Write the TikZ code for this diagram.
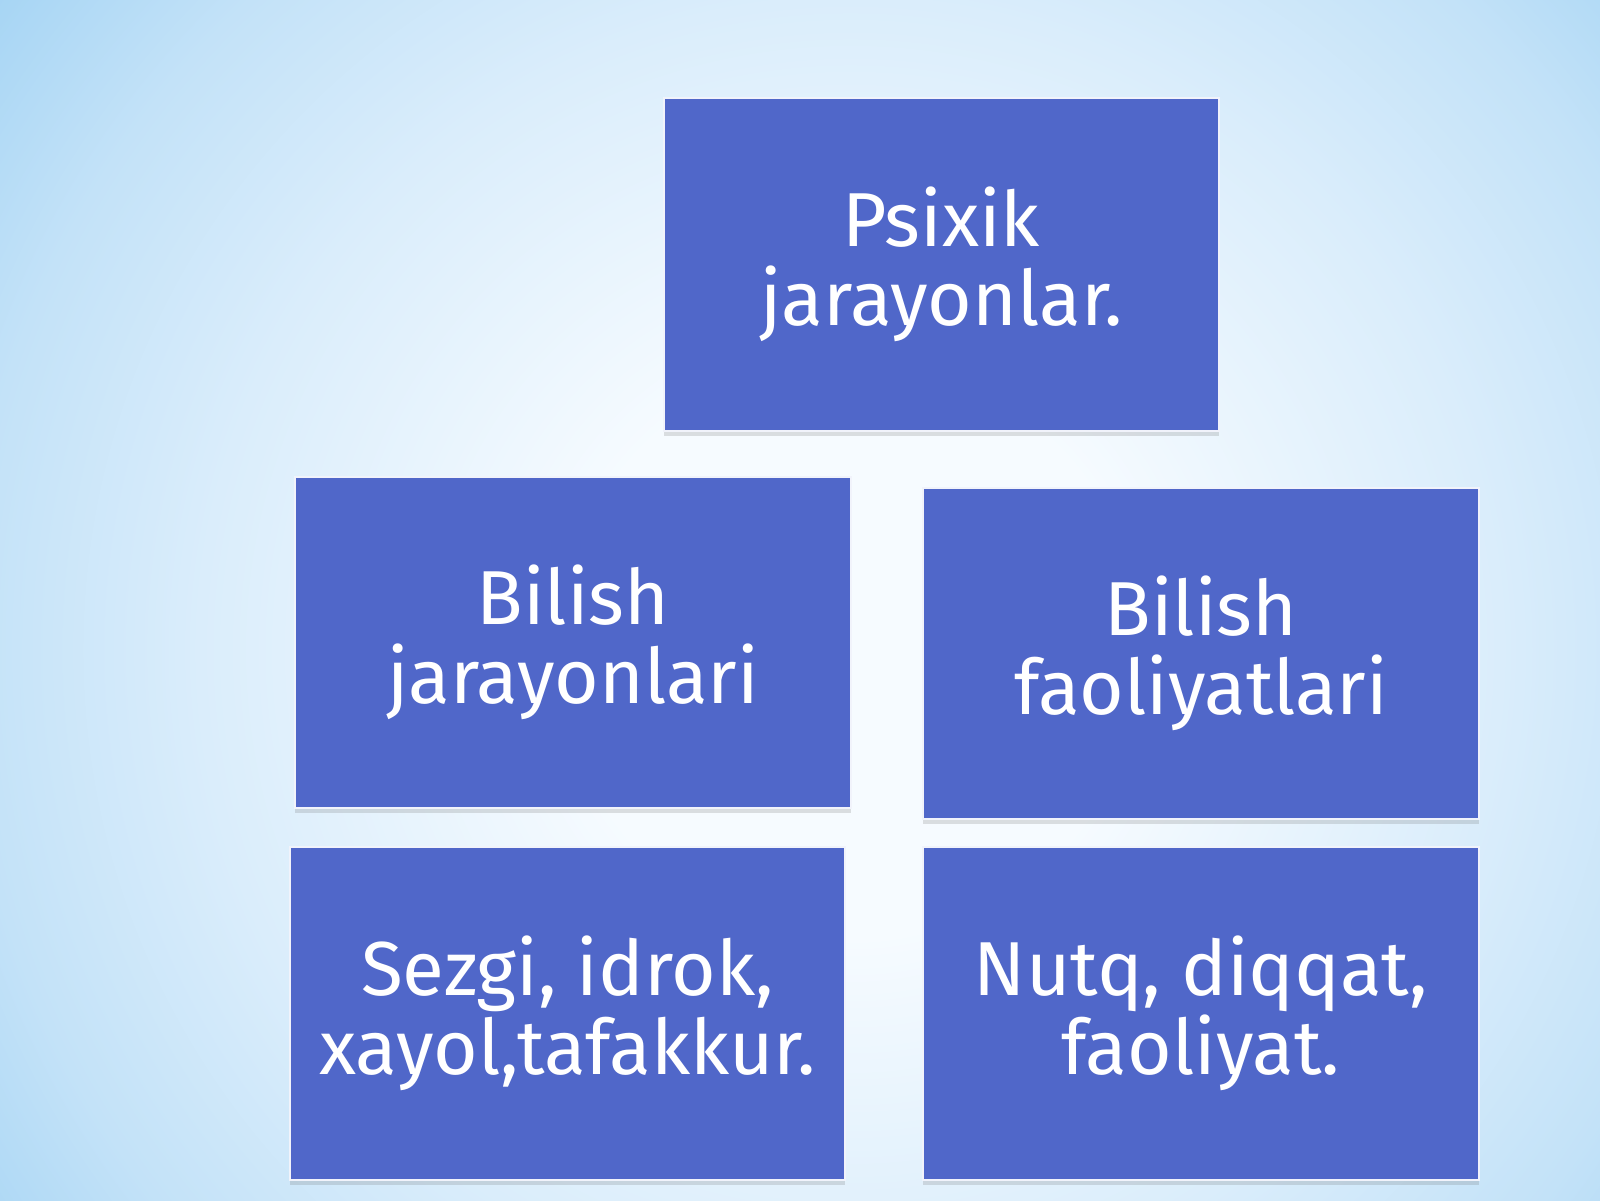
\documentclass[tikz,border=0pt]{standalone}
\usepackage{fontspec}
\setmainfont{Fira Sans}
\usetikzlibrary{shadows}
\definecolor{boxblue}{RGB}{80,103,201}
\definecolor{bgA}{RGB}{246,251,255}
\definecolor{bgB}{RGB}{218,237,251}
\definecolor{bgC}{RGB}{195,226,248}
\definecolor{bgD}{RGB}{160,210,243}
\pgfdeclareradialshading{bgshade}{\pgfpoint{0bp}{0bp}}{%
  color(0bp)=(bgA); color(5.5bp)=(bgA); color(12.5bp)=(bgB); color(17bp)=(bgC); color(21.5bp)=(bgD); color(50bp)=(bgD)}
\tikzset{
  panel/.style={rectangle, fill=boxblue, draw=white!92!boxblue, line width=1.6pt,
    inner sep=0pt, text=white, align=center,
    font=\fontsize{76.5}{79}\selectfont,
    drop shadow={shadow xshift=0pt, shadow yshift=-5pt, opacity=0.2, fill=black!60}},
}
\begin{document}
\begin{tikzpicture}[x=1pt,y=-1pt]
\useasboundingbox (0,0) rectangle (1600,1200);
\begin{scope}
  \clip (0,0) rectangle (1600,1200);
  \fill[bgD] (0,0) rectangle (1600,1200);
  \shade[shading=bgshade] (850,650) circle (1300);
\end{scope}
\node[panel, minimum width=555pt, minimum height=333pt] (top) at (941.5,264.5) {Psixik\\jarayonlar.};
\node[panel, minimum width=556pt, minimum height=331pt] (lmid) at (573,642.5) {Bilish\\jarayonlari};
\node[panel, minimum width=556pt, minimum height=331pt] (rmid) at (1201,653.5) {Bilish\\faoliyatlari};
\node[panel, minimum width=555pt, minimum height=333pt] (lbot) at (567.5,1013.5) {Sezgi, idrok,\\xayol,tafakkur.};
\node[panel, minimum width=556pt, minimum height=333pt] (rbot) at (1201,1013.5) {Nutq, diqqat,\\faoliyat.};
\end{tikzpicture}
\end{document}
